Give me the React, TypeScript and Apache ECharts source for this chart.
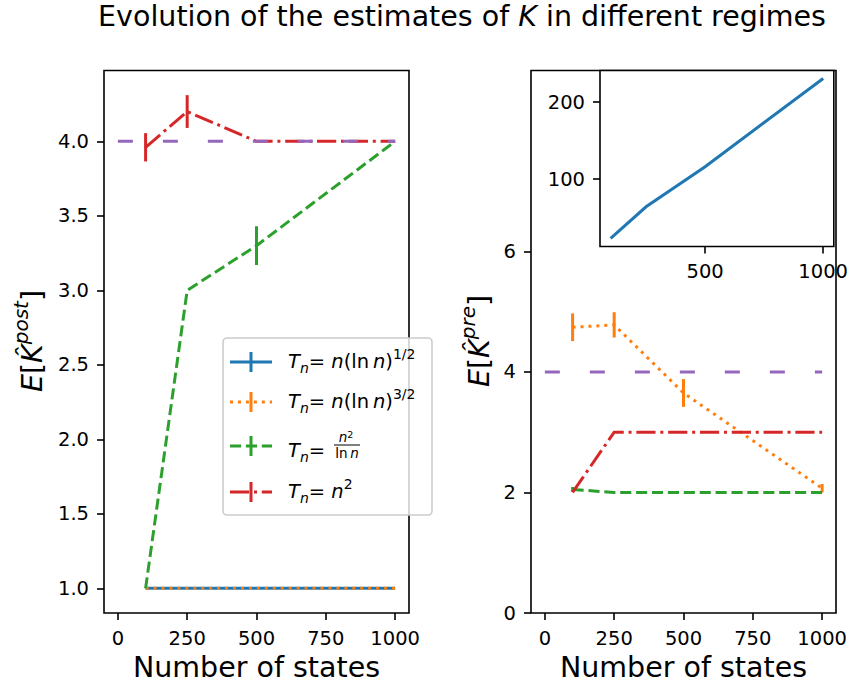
import React, { useEffect, useRef } from 'react';
import * as echarts from 'echarts';

// ---------------- data ----------------
const nStates = [100, 250, 500, 1000];
const trueKX = [0, 1000];
const trueKY = [4, 4];

// E[K^post] (left panel)
const postBlue = [1.0, 1.0, 1.0, 1.0];
const postBlueErr = [0, 0, 0, 0];
const postOrange = [1.0, 1.0, 1.0, 1.0];
const postOrangeErr = [0, 0, 0, 0];
const postGreen = [1.0, 3.0, 3.3, 4.0];
const postGreenErr = [0, 0, 0.13, 0];
const postRed = [3.96, 4.2, 4.0, 4.0];
const postRedErr = [0.095, 0.11, 0, 0];

// E[K^pre] (right panel)
const preBlue = [23, 64, 116, 230.6];
const preOrange = [4.74, 4.78, 3.65, 2.07];
const preOrangeErr = [0.23, 0.21, 0.23, 0.07];
const preGreen = [2.05, 2.0, 2.0, 2.0];
const preGreenErr = [0.04, 0, 0, 0];
const preRed = [2.0, 3.0, 3.0, 3.0];
const preRedErr = [0, 0, 0, 0];

// ticks
const xTicks = [0, 250, 500, 750, 1000];
const postYTicks = [1.0, 1.5, 2.0, 2.5, 3.0, 3.5, 4.0];
const preYTicks = [0, 2, 4, 6];
const insetXTicks = [500, 1000];
const insetYTicks = [100, 200];

const legendLabels = [
  '{i|T}{sub|n}{r|= }{i|n}{r|(ln\u2009}{i|n}{r|)}{sup|1/2}',
  '{i|T}{sub|n}{r|= }{i|n}{r|(ln\u2009}{i|n}{r|)}{sup|3/2}',
  '{i|T}{sub|n}{r|= }',
  '{i|T}{sub|n}{r|= }{i|n}{sup|2}',
];

// ---------------- styles ----------------
const FONT = 'DejaVu Sans';
const C = {
  blue: '#1f77b4',
  orange: '#ff7f0e',
  green: '#2ca02c',
  red: '#d62728',
  purple: '#9467bd',
};
const DASH_SOLID: any = 'solid';
const DASH_DOT = [3, 4.95];
const DASH_DASH = [11.1, 4.8];
const DASH_DASHDOT = [19.2, 4.8, 3, 4.8];
const DASH_TRUE = [15, 30];

const LW = 3;
const TICK_FS = 19.5;

function lineSeries(xi: number, ys: number[], xs: number[], color: string, dash: any, z: number) {
  return {
    type: 'line',
    xAxisIndex: xi,
    yAxisIndex: xi,
    data: xs.map((x, i) => [x, ys[i]]),
    showSymbol: false,
    symbol: 'none',
    lineStyle: { color, width: LW, type: dash, cap: 'butt', join: 'miter' },
    itemStyle: { color },
    emphasis: { disabled: true },
    silent: true,
    z,
    clip: true,
  };
}

function errSeries(xi: number, ys: number[], errs: number[], color: string, z: number) {
  return {
    type: 'custom',
    xAxisIndex: xi,
    yAxisIndex: xi,
    data: nStates.map((x, i) => [x, ys[i], errs[i]]),
    encode: { x: 0, y: 1 },
    silent: true,
    z,
    renderItem: (params: any, api: any) => {
      const x = api.value(0);
      const y = api.value(1);
      const e = api.value(2);
      if (!e) return { type: 'group', children: [] };
      const p1 = api.coord([x, y - e]);
      const p2 = api.coord([x, y + e]);
      return {
        type: 'line',
        shape: { x1: p1[0], y1: p1[1], x2: p2[0], y2: p2[1] },
        style: { stroke: color, lineWidth: LW },
      };
    },
  };
}

const tickStyle = { show: true, inside: false, length: 7, lineStyle: { color: '#000', width: 1.6 } };
const labelStyle = { color: '#000', fontSize: TICK_FS, fontFamily: FONT, margin: 15 };

function xAxisDef(gridIndex: number, min: number, max: number, ticks: number[], name?: string) {
  return {
    type: 'value',
    gridIndex,
    min,
    max,
    axisLine: { show: false, onZero: false },
    splitLine: { show: false },
    axisTick: { ...tickStyle, customValues: ticks },
    axisLabel: { ...labelStyle, customValues: ticks, formatter: (v: number) => String(v) },
    name: name || '',
    nameLocation: 'middle',
    nameGap: 40,
    nameTextStyle: { color: '#000', fontSize: 28.5, fontFamily: FONT },
  };
}

function yAxisDef(gridIndex: number, min: number, max: number, ticks: number[], fmt?: (v: number) => string) {
  return {
    type: 'value',
    gridIndex,
    min,
    max,
    axisLine: { show: false, onZero: false },
    splitLine: { show: false },
    axisTick: { ...tickStyle, customValues: ticks },
    axisLabel: { ...labelStyle, customValues: ticks, formatter: fmt || ((v: number) => String(v)) },
  };
}

const mathRich = (size: number, small: number, lh: number) => ({
  i: { fontStyle: 'italic', fontSize: size, lineHeight: lh, fontFamily: FONT, color: '#000' },
  r: { fontSize: size, lineHeight: lh, fontFamily: FONT, color: '#000' },
  sub: { fontStyle: 'italic', fontSize: small, lineHeight: small, verticalAlign: 'bottom', fontFamily: FONT, color: '#000' },
  sup: { fontSize: small, lineHeight: small, verticalAlign: 'top', fontFamily: FONT, color: '#000' },
  supi: { fontStyle: 'italic', fontSize: small, lineHeight: small, verticalAlign: 'top', fontFamily: FONT, color: '#000' },
});

function textEl(x: number, y: number, text: string, rich: any, align: string, rotation = 0, z = 100) {
  return {
    type: 'text',
    x,
    y,
    rotation,
    z,
    silent: true,
    style: {
      text,
      rich,
      fill: '#000',
      font: `18px "${FONT}"`,
      align,
      textAlign: align,
      verticalAlign: 'middle',
      textVerticalAlign: 'middle',
    },
  };
}

function buildLegend() {
  const rows = [
    { y: 362, ty: 361, color: C.blue, dash: null },
    { y: 402, ty: 401, color: C.orange, dash: DASH_DOT },
    { y: 446, ty: 450, color: C.green, dash: DASH_DASH },
    { y: 492, ty: 491, color: C.red, dash: DASH_DASHDOT },
  ];
  const children: any[] = [
    {
      type: 'rect',
      shape: { x: 223, y: 338, width: 209, height: 177, r: 4 },
      style: { fill: 'rgba(255,255,255,0.8)', stroke: '#cccccc', lineWidth: 1.6 },
      z: 90,
    },
  ];
  const rich = mathRich(19.5, 14, 28);
  rows.forEach((row, k) => {
    children.push({
      type: 'line',
      shape: { x1: 230, y1: row.y, x2: 272, y2: row.y },
      style: { stroke: row.color, lineWidth: LW, lineDash: row.dash || undefined },
      z: 95,
    });
    children.push({
      type: 'line',
      shape: { x1: 251, y1: row.y - 10, x2: 251, y2: row.y + 10 },
      style: { stroke: row.color, lineWidth: LW },
      z: 95,
    });
    children.push(textEl(288, row.ty, legendLabels[k], rich, 'left', 0, 96));
  });
  // fraction n^2 / ln n
  const fr = mathRich(13.5, 9.5, 16);
  children.push(textEl(346, 437, '{i|n}{sup|2}', fr, 'center', 0, 96));
  children.push({
    type: 'line',
    shape: { x1: 334, y1: 445, x2: 360, y2: 445 },
    style: { stroke: '#000', lineWidth: 1 },
    z: 96,
  });
  children.push(textEl(347, 453, '{r|ln\u2009}{i|n}', fr, 'center', 0, 96));
  return children;
}

export default function App() {
  const ref = useRef<HTMLDivElement>(null);
  useEffect(() => {
    if (!ref.current) return;
    const chart = echarts.init(ref.current, null, { renderer: 'svg' });
    const titleRich = {
      r: { fontSize: 28.5, fontFamily: FONT, color: '#000' },
      i: { fontSize: 28.5, fontStyle: 'italic', fontFamily: FONT, color: '#000' },
    };
    const ylabRich = mathRich(28.5, 20, 42);
    const option: any = {
      animation: false,
      backgroundColor: '#fff',
      textStyle: { fontFamily: FONT },
      grid: [
        { left: 104, top: 70.5, width: 305, height: 542.5, show: true, borderColor: '#000', borderWidth: 1.6, backgroundColor: '#fff', z: 0 },
        { left: 531, top: 70.5, width: 305, height: 542.5, show: true, borderColor: '#000', borderWidth: 1.6, backgroundColor: '#fff', z: 0 },
        { left: 600, top: 70.5, width: 236, height: 176, show: true, borderColor: '#000', borderWidth: 1.6, backgroundColor: '#fff', z: 5 },
      ],
      xAxis: [
        xAxisDef(0, -50, 1050, xTicks, 'Number of states'),
        xAxisDef(1, -50, 1050, xTicks, 'Number of states'),
        { ...xAxisDef(2, 55, 1045, insetXTicks), z: 6 },
      ],
      yAxis: [
        yAxisDef(0, 0.8345, 4.4755, postYTicks, (v: number) => v.toFixed(1)),
        yAxisDef(1, 0, 9, preYTicks),
        { ...yAxisDef(2, 12.4, 241, insetYTicks), z: 6 },
      ],
      series: [
        // left
        lineSeries(0, postBlue, nStates, C.blue, DASH_SOLID, 2),
        errSeries(0, postBlue, postBlueErr, C.blue, 2),
        lineSeries(0, postOrange, nStates, C.orange, DASH_DOT, 3),
        errSeries(0, postOrange, postOrangeErr, C.orange, 3),
        lineSeries(0, postGreen, nStates, C.green, DASH_DASH, 4),
        errSeries(0, postGreen, postGreenErr, C.green, 4),
        lineSeries(0, postRed, nStates, C.red, DASH_DASHDOT, 5),
        errSeries(0, postRed, postRedErr, C.red, 5),
        lineSeries(0, trueKY, trueKX, C.purple, DASH_TRUE, 6),
        // right
        lineSeries(1, preOrange, nStates, C.orange, DASH_DOT, 3),
        errSeries(1, preOrange, preOrangeErr, C.orange, 3),
        lineSeries(1, preGreen, nStates, C.green, DASH_DASH, 4),
        errSeries(1, preGreen, preGreenErr, C.green, 4),
        lineSeries(1, preRed, nStates, C.red, DASH_DASHDOT, 5),
        errSeries(1, preRed, preRedErr, C.red, 5),
        lineSeries(1, trueKY, trueKX, C.purple, DASH_TRUE, 6),
        // inset
        lineSeries(2, preBlue, nStates, C.blue, DASH_SOLID, 7),
      ],
      graphic: [
        textEl(462, 16, '{r|Evolution of the estimates of }{i|K}{r| in different regimes}', titleRich, 'center'),
        textEl(32, 341, '{i|E}{r|[}{i|K\u0302}{supi|post}{r|]}', ylabRich, 'center', Math.PI / 2),
        textEl(479, 341, '{i|E}{r|[}{i|K\u0302}{supi|pre}{r|]}', ylabRich, 'center', Math.PI / 2),
        ...buildLegend(),
      ],
    };
    chart.setOption(option);
    return () => chart.dispose();
  }, []);
  return (
    <div
      ref={ref}
      style={{ position: 'fixed', left: 0, top: 0, width: 851, height: 688, background: '#fff' }}
    />
  );
}
